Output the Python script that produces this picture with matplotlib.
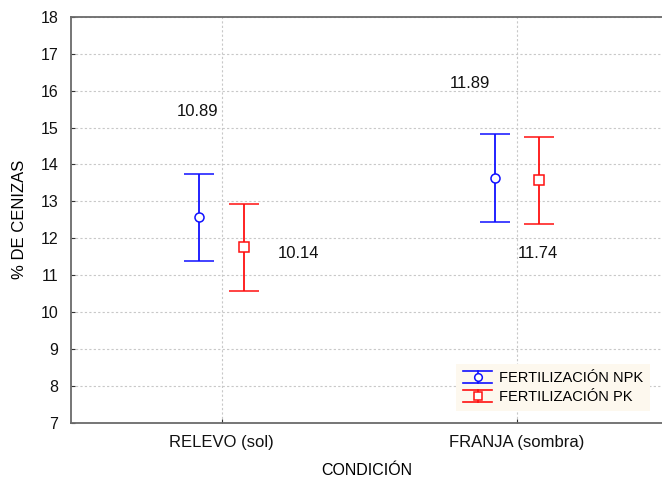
import numpy as np
import matplotlib.pyplot as plt
from matplotlib.lines import Line2D
from matplotlib.legend_handler import HandlerBase

plt.rcParams['font.family'] = ['Liberation Sans', 'DejaVu Sans']

# Medias e intervalos de % de cenizas por condición
condiciones = ["RELEVO (sol)", "FRANJA (sombra)"]
media_npk = [12.57, 13.63]
error_npk = [1.18, 1.19]
media_pk = [11.76, 13.57]
error_pk = [1.18, 1.18]

# Valores anotados sobre la gráfica
etiquetas = ["10.89", "10.14", "11.89", "11.74"]
etiqueta_x = [0.92, 1.26, 1.84, 2.07]
etiqueta_y = [15.43, 11.60, 16.20, 11.60]

AZUL = '#1010ff'
ROJO = '#ff1010'


class HandlerBarra(HandlerBase):
    # símbolo de leyenda: barra de error con tapas y marcador al centro
    def create_artists(self, legend, orig_handle, xdescent, ydescent,
                       width, height, fontsize, trans):
        c = orig_handle.get_color()
        m = orig_handle.get_marker()
        yc = height / 2 - ydescent
        dy = height * 0.46
        x0, x1 = -xdescent, width - xdescent
        xm = (x0 + x1) / 2
        arts = [
            Line2D([x0, x1], [yc + dy, yc + dy], color=c, lw=1.2),
            Line2D([x0, x1], [yc - dy, yc - dy], color=c, lw=1.2),
            Line2D([xm, xm], [yc - dy, yc + dy], color=c, lw=1.2),
            Line2D([xm], [yc], marker=m, ms=5.5, mfc='white', mec=c, mew=1.1,
                   ls='none'),
        ]
        for a in arts:
            a.set_transform(trans)
        return arts


fig = plt.figure(figsize=(6.62, 4.8), dpi=100)
ax = fig.add_axes([0.107, 0.119, 0.893, 0.846])

x = np.arange(1, len(condiciones) + 1)
desp = 0.075

ax.errorbar(x - desp, media_npk, yerr=error_npk, fmt='o', color=AZUL,
            mfc='white', mec=AZUL, ms=6.5, mew=1.1, capsize=11,
            elinewidth=1.3, capthick=1.3, zorder=3)
ax.errorbar(x + desp, media_pk, yerr=error_pk, fmt='s', color=ROJO,
            mfc='white', mec=ROJO, ms=6.5, mew=1.1, capsize=11,
            elinewidth=1.3, capthick=1.3, zorder=3)

for t, xx, yy in zip(etiquetas, etiqueta_x, etiqueta_y):
    ax.text(xx, yy, t, fontsize=12, ha='center', va='center', color='#111111')

ax.set_xlim(0.49, 2.49)
ax.set_ylim(7, 18)
ax.set_yticks(range(7, 19))
ax.set_xticks(x)
ax.set_xticklabels(condiciones)
ax.tick_params(direction='in', length=3, labelsize=11.5, colors='#333333',
               labelcolor='#111111')
ax.tick_params(axis='y', pad=9)
ax.tick_params(axis='x', labelsize=12, pad=9)
ax.grid(True, linestyle=(0, (2, 2)), color='#c8c8c8', linewidth=0.8)
ax.set_axisbelow(True)

for s in ['left', 'bottom', 'top']:
    ax.spines[s].set_color('#6a6a6a')
    ax.spines[s].set_linewidth(1.3)
ax.spines['right'].set_visible(False)

ax.set_ylabel("% DE CENIZAS", fontsize=12, labelpad=10)
ax.set_xlabel("CONDICIÓN", fontsize=11.5, labelpad=9)

h_npk = Line2D([], [], color=AZUL, marker='o')
h_pk = Line2D([], [], color=ROJO, marker='s')
leg = ax.legend([h_npk, h_pk], ["FERTILIZACIÓN NPK", "FERTILIZACIÓN PK"],
                handler_map={Line2D: HandlerBarra()},
                loc='lower right', bbox_to_anchor=(0.98, 0.03), fontsize=10.5,
                frameon=True, fancybox=False, handlelength=2.0,
                handleheight=1.0, borderpad=0.45, labelspacing=0.3,
                handletextpad=0.5, borderaxespad=0)
leg.get_frame().set_facecolor('#fdf8ee')
leg.get_frame().set_edgecolor('none')
leg.get_frame().set_alpha(1)

fig.savefig("out.png", dpi=100)
